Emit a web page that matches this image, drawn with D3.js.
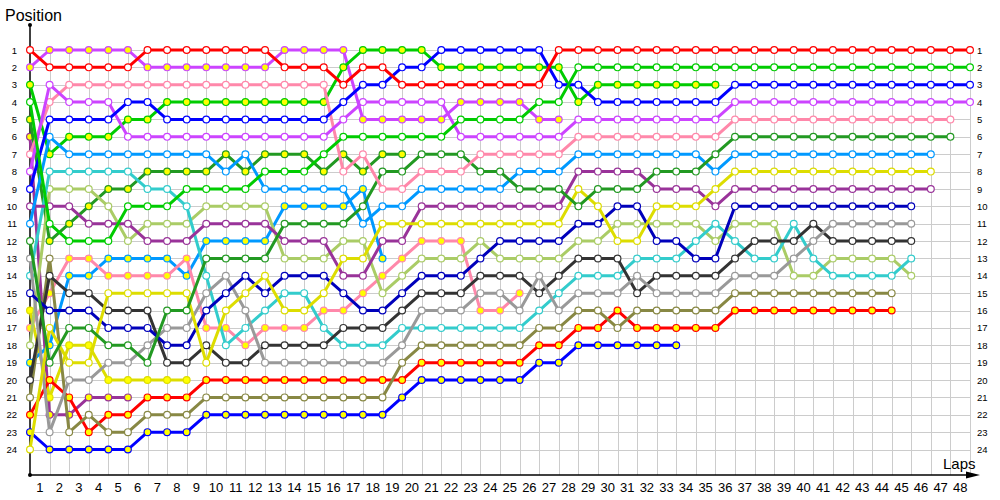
<!DOCTYPE html>
<html><head><meta charset="utf-8">
<script src="https://cdn.jsdelivr.net/npm/d3@7"></script>
<style>body{margin:0;background:#fff}svg{display:block}</style>
</head><body>
<svg id="chart" width="1000" height="500"></svg>
<script>
// ---------- data ----------
const lapTicks = [1,2,3,4,5,6,7,8,9,10,11,12,13,14,15,16,17,18,19,20,21,22,23,24,25,26,27,28,29,30,31,32,33,34,35,36,37,38,39,40,41,42,43,44,45,46,47,48];
const positionTicks = [1,2,3,4,5,6,7,8,9,10,11,12,13,14,15,16,17,18,19,20,21,22,23,24];

// positions per lap, starting at lap 0 (grid)
const redA    = [1,2,2,2,2,2,1,1,1,1,1,1,1,2,2,2,3,2,2,3,3,3,3,3,3,3,3,1,1,1,1,1,1,1,1,1,1,1,1,1,1,1,1,1,1,1,1,1,1];
const violetB = [2,1,1,1,1,1,2,2,2,2,2,2,2,1,1,1,1,5,5,5,5,5,4,4,4,4,5,5];
const limeB   = [3,7,6,6,6,5,5,4,4,4,4,4,4,4,4,4,2,1,1,1,1,2,2,2,2,2,2,2,4,3,3,3,3,3,3,3];
const limeA   = [4,11,12,12,12,10,10,10,9,9,9,9,8,8,8,7,6,6,6,6,6,6,5,5,5,5,4,4,2,2,2,2,2,2,2,2,2,2,2,2,2,2,2,2,2,2,2,2,2];
const dkgreenB= [5,12,11,10,9,9,8,8,8,8,7,8,7,7,7,8,7,8,7,7];
const purpleB = [6,22,22,21,21,21];
const pinkA   = [7,4,3,3,3,3,3,3,3,3,3,3,3,3,3,3,8,7,9,9,8,8,8,7,7,7,7,7,6,6,6,6,6,6,6,6,5,5,5,5,5,5,5,5,5,5,5,5];
const violetA = [8,3,4,4,4,6,6,6,6,6,6,6,6,6,6,6,5,4,4,4,4,4,6,6,6,6,6,6,5,5,5,5,5,5,5,5,4,4,4,4,4,4,4,4,4,4,4,4,4];
const blueA   = [9,5,5,5,5,4,4,5,5,5,5,5,5,5,5,5,4,3,3,2,2,1,1,1,1,1,1,3,3,4,4,4,4,4,4,4,3,3,3,3,3,3,3,3,3,3,3,3,3];
const purpleA = [10,10,10,11,11,11,12,12,12,11,11,11,11,12,12,12,14,14,12,12,10,10,10,10,10,10,10,10,8,8,8,8,9,9,9,10,9,9,9,9,9,9,9,9,9,9,9];
const ltblueA = [11,6,7,7,7,7,7,7,7,7,8,7,9,9,9,9,9,11,10,10,9,9,9,9,9,8,8,8,7,7,7,7,7,7,7,8,7,7,7,7,7,7,7,7,7,7,7];
const dkgreenA= [12,19,17,17,18,18,19,16,16,13,13,13,13,11,11,11,11,10,8,8,7,7,7,8,8,9,9,9,10,9,9,9,8,8,8,7,6,6,6,6,6,6,6,6,6,6,6,6];
const greyA   = [13,23,20,20,19,19,18,17,17,15,14,16,19,19,19,19,19,19,19,18,16,16,16,15,15,16,14,16,15,15,15,14,15,15,15,15,14,14,14,13,12,11,11,11,11,11];
const cyanA   = [14,8,8,8,8,8,9,9,10,14,18,17,16,15,15,17,18,18,18,17,17,17,17,17,17,17,16,15,14,14,14,13,13,13,12,11,12,13,13,11,13,14,14,14,14,13];
const navyA   = [15,16,16,16,17,17,17,18,18,16,15,14,15,14,14,14,15,16,16,15,14,14,14,13,12,12,12,12,11,11,10,10,12,12,13,13,10,10,10,10,10,10,10,10,10,10];
const yellowB = [16,21,18,18,20,20,20,20,20];
const pinkB   = [17,15,13,13,14,14,14,14,13,17,17,18,17,17,17,16,16,15,14,13,12,12,12,16,16,15];
const ylgreenA= [18,9,9,9,10,12,11,11,11,10,10,10,10,13,13,13,12,12,15,14,13,13,13,12,13,13,13,13,12,12,11,11,11,11,11,12,11,11,11,14,14,13,13,13,13,14];
const ltblueB = [19,18,14,14,13,13,13,13,14,12,12,12,12,10,10,10,10,9,13];
const blackA  = [20,14,15,15,16,16,16,19,19,18,19,19,18,18,18,18,17,17,17,16,15,15,15,14,14,14,15,14,13,13,13,15,14,14,14,14,13,12,12,12,11,12,12,12,12,12];
const oliveA  = [21,13,23,22,23,23,22,22,22,21,21,21,21,21,21,21,21,21,21,19,18,18,18,18,18,18,17,17,16,16,17,16,16,16,16,16,15,15,15,15,15,15,15,15,15];
const redB    = [22,20,21,23,22,22,21,21,21,20,20,20,20,20,20,20,20,20,20,20,19,19,19,19,19,19,18,18,17,17,16,17,17,17,17,17,16,16,16,16,16,16,16,16,16];
const blueB   = [23,24,24,24,24,24,23,23,23,22,22,22,22,22,22,22,22,22,22,21,20,20,20,20,20,20,19,19,18,18,18,18,18,18];
const yellowA = [24,17,19,19,15,15,15,15,15,19,16,15,14,16,16,15,13,13,11,11,11,11,11,11,11,11,11,11,9,10,12,12,10,10,10,9,8,8,8,8,8,8,8,8,8,8,8];

// series: [values, team, second driver (filled marker)]
const series = [
  [purpleB,'purple',true],[yellowB,'yellow',true],[ltblueB,'ltblue',true],[dkgreenB,'dkgreen',true],
  [pinkB,'pink',true],[violetB,'violet',true],[blueB,'blue',true],[limeB,'lime',true],
  [redB,'red',true],[oliveA,'olive',false],[ylgreenA,'ylgreen',false],[cyanA,'cyan',false],
  [blackA,'black',false],[greyA,'grey',false],[navyA,'navy',false],[purpleA,'purple',false],
  [yellowA,'yellow',false],[ltblueA,'ltblue',false],[dkgreenA,'dkgreen',false],[pinkA,'pink',false],
  [violetA,'violet',false],[blueA,'blue',false],[limeA,'lime',false],[redA,'red',false]
];

// ---------- styles ----------
const teamColor = {
  red:'#ff0000', lime:'#00cc00', blue:'#0000ff', violet:'#cc44ff', pink:'#ff88aa',
  dkgreen:'#229922', ltblue:'#0099ff', yellow:'#dddd00', purple:'#993399', navy:'#0000bb',
  grey:'#999999', black:'#333333', cyan:'#33cccc', ylgreen:'#aacc66', olive:'#888844'
};
const FONT = "'Liberation Sans', Arial, sans-serif";

const svg = d3.select('#chart');
const x = d3.scaleLinear().domain([0, 48]).range([30, 970]);
const y = d3.scaleLinear().domain([1, 24]).range([50, 449.5]);
const xBand = d3.scaleBand().domain(lapTicks).range([x(0), x(48)]);
const axisY = 475;

// grid
const grid = svg.append('g').attr('stroke', '#cccccc').attr('stroke-width', 1).attr('shape-rendering','crispEdges');
grid.selectAll('line.v').data(lapTicks).join('line')
  .attr('x1', d => Math.round(x(d)) + 0.5).attr('x2', d => Math.round(x(d)) + 0.5)
  .attr('y1', y(1)).attr('y2', axisY);
grid.selectAll('line.h').data(positionTicks).join('line')
  .attr('x1', x(0)).attr('x2', x(48))
  .attr('y1', d => Math.round(y(d)) + 0.5).attr('y2', d => Math.round(y(d)) + 0.5);

// axes lines
svg.append('line').attr('x1', 30).attr('x2', 970).attr('y1', axisY).attr('y2', axisY)
  .attr('stroke', '#000').attr('stroke-width', 1.5);
svg.append('path').attr('d', `M966,${axisY-3.5}L980,${axisY}L966,${axisY+3.5}Z`).attr('fill', '#000');
svg.append('line').attr('x1', 30).attr('x2', 30).attr('y1', axisY).attr('y2', 25)
  .attr('stroke', '#000').attr('stroke-width', 1.5);
svg.append('circle').attr('cx', 30).attr('cy', 25).attr('r', 2).attr('fill', '#000');
svg.append('circle').attr('cx', 30).attr('cy', axisY).attr('r', 2).attr('fill', '#000');

// x tick labels (centered between grid lines)
const gx = svg.append('g').attr('transform', `translate(0,${axisY + 8})`)
  .call(d3.axisBottom(xBand).tickSize(0).tickPadding(0));
gx.select('.domain').remove();
gx.selectAll('text').attr('font-family', FONT).attr('font-size', 13).attr('fill', '#000');

// y tick labels left and right
const gyl = svg.append('g').attr('transform', 'translate(17,0)')
  .call(d3.axisLeft(y).tickValues(positionTicks).tickSize(0).tickPadding(0).tickFormat(d3.format('d')));
gyl.select('.domain').remove();
gyl.selectAll('text').attr('font-family', FONT).attr('font-size', 9.5).attr('fill', '#000');
const gyr = svg.append('g').attr('transform', 'translate(977,0)')
  .call(d3.axisRight(y).tickValues(positionTicks).tickSize(0).tickPadding(0).tickFormat(d3.format('d')));
gyr.select('.domain').remove();
gyr.selectAll('text').attr('font-family', FONT).attr('font-size', 9.5).attr('fill', '#000');

// titles
svg.append('text').attr('x', 5).attr('y', 21).text('Position')
  .attr('font-family', FONT).attr('font-size', 16).attr('fill', '#000');
svg.append('text').attr('x', 943).attr('y', 469).text('Laps')
  .attr('font-family', FONT).attr('font-size', 15).attr('fill', '#000');

// series
const line = d3.line().x((d, i) => x(i)).y(d => y(d));
series.forEach(([vals, team, second]) => {
  const c = teamColor[team];
  const g = svg.append('g');
  g.append('path').attr('d', line(vals)).attr('fill', 'none')
    .attr('stroke', c).attr('stroke-width', 3).attr('stroke-linejoin', 'round');
  g.selectAll('circle').data(vals).join('circle')
    .attr('cx', (d, i) => x(i)).attr('cy', d => y(d)).attr('r', 3.4)
    .attr('fill', second ? '#ffff00' : '#ffffff').attr('stroke', c).attr('stroke-width', 1.2);
});
</script>
</body></html>
